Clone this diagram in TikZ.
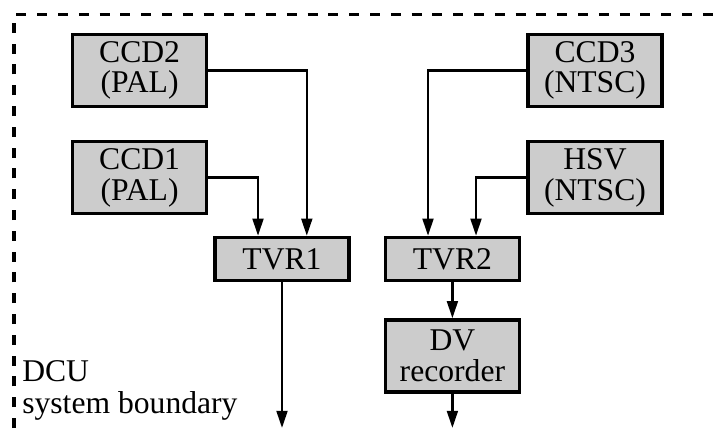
\documentclass[tikz,border=0pt]{standalone}
\usepackage{fontspec}
\setmainfont{Liberation Serif}
\usetikzlibrary{arrows.meta}
\definecolor{UnitGray}{HTML}{CCCCCC}
\tikzset{
  unit/.style={draw=black, fill=UnitGray, align=center, inner sep=0pt,
               minimum width=3.355cm, minimum height=1.805cm,
               line width=2.3pt, font=\fontsize{22.5}{22}\selectfont},
  slim/.style={unit, minimum height=1.08cm},
  flow/.style={-{Triangle[length=4.3mm, width=2.7mm]}, line width=1.8pt},
  boundary/.style={line width=2.2pt, dash pattern=on 2.5mm off 2.7mm}
}

\begin{document}
\begin{tikzpicture}
  \useasboundingbox (0,0) rectangle (17.85,10.7);

  % system boundary
  \draw[boundary] (0.35,0) |- (17.85,10.34);
  \node[anchor=base west, align=left, inner sep=0pt,
        font=\fontsize{22.5}{22.5}\selectfont] (dcu) at (0.55,0.36)
    {DCU\\system boundary};

  % sources
  \node[unit] (ccd2) at (3.49,8.94) {CCD2\\(PAL)};
  \node[unit] (ccd1) at (3.49,6.26) {CCD1\\(PAL)};
  \node[unit] (ccd3) at (14.875,8.94) {CCD3\\(NTSC)};
  \node[unit] (hsv) at (14.875,6.26) {HSV\\(NTSC)};

  % recorders
  \node[slim] (tvr1) at (7.05,4.225) {TVR1};
  \node[slim] (tvr2) at (11.31,4.225) {TVR2};
  \node[unit] (dv) at (11.31,1.8) {DV\\recorder};

  \coordinate (bottom) at (0,0);
  \coordinate (exit1) at (tvr1.south |- bottom);
  \coordinate (exit2) at (dv.south |- bottom);

  \draw[flow] (ccd1.east) -| ([xshift=-0.6cm]tvr1.north);
  \draw[flow] (ccd2.east) -| ([xshift=0.62cm]tvr1.north);
  \draw[flow] (ccd3.west) -| ([xshift=-0.61cm]tvr2.north);
  \draw[flow] (hsv.west) -| ([xshift=0.59cm]tvr2.north);
  \draw[flow] (tvr1.south) -- (exit1);
  \draw[flow] (tvr2.south) -- (dv.north);
  \draw[flow] (dv.south) -- (exit2);
\end{tikzpicture}
\end{document}
